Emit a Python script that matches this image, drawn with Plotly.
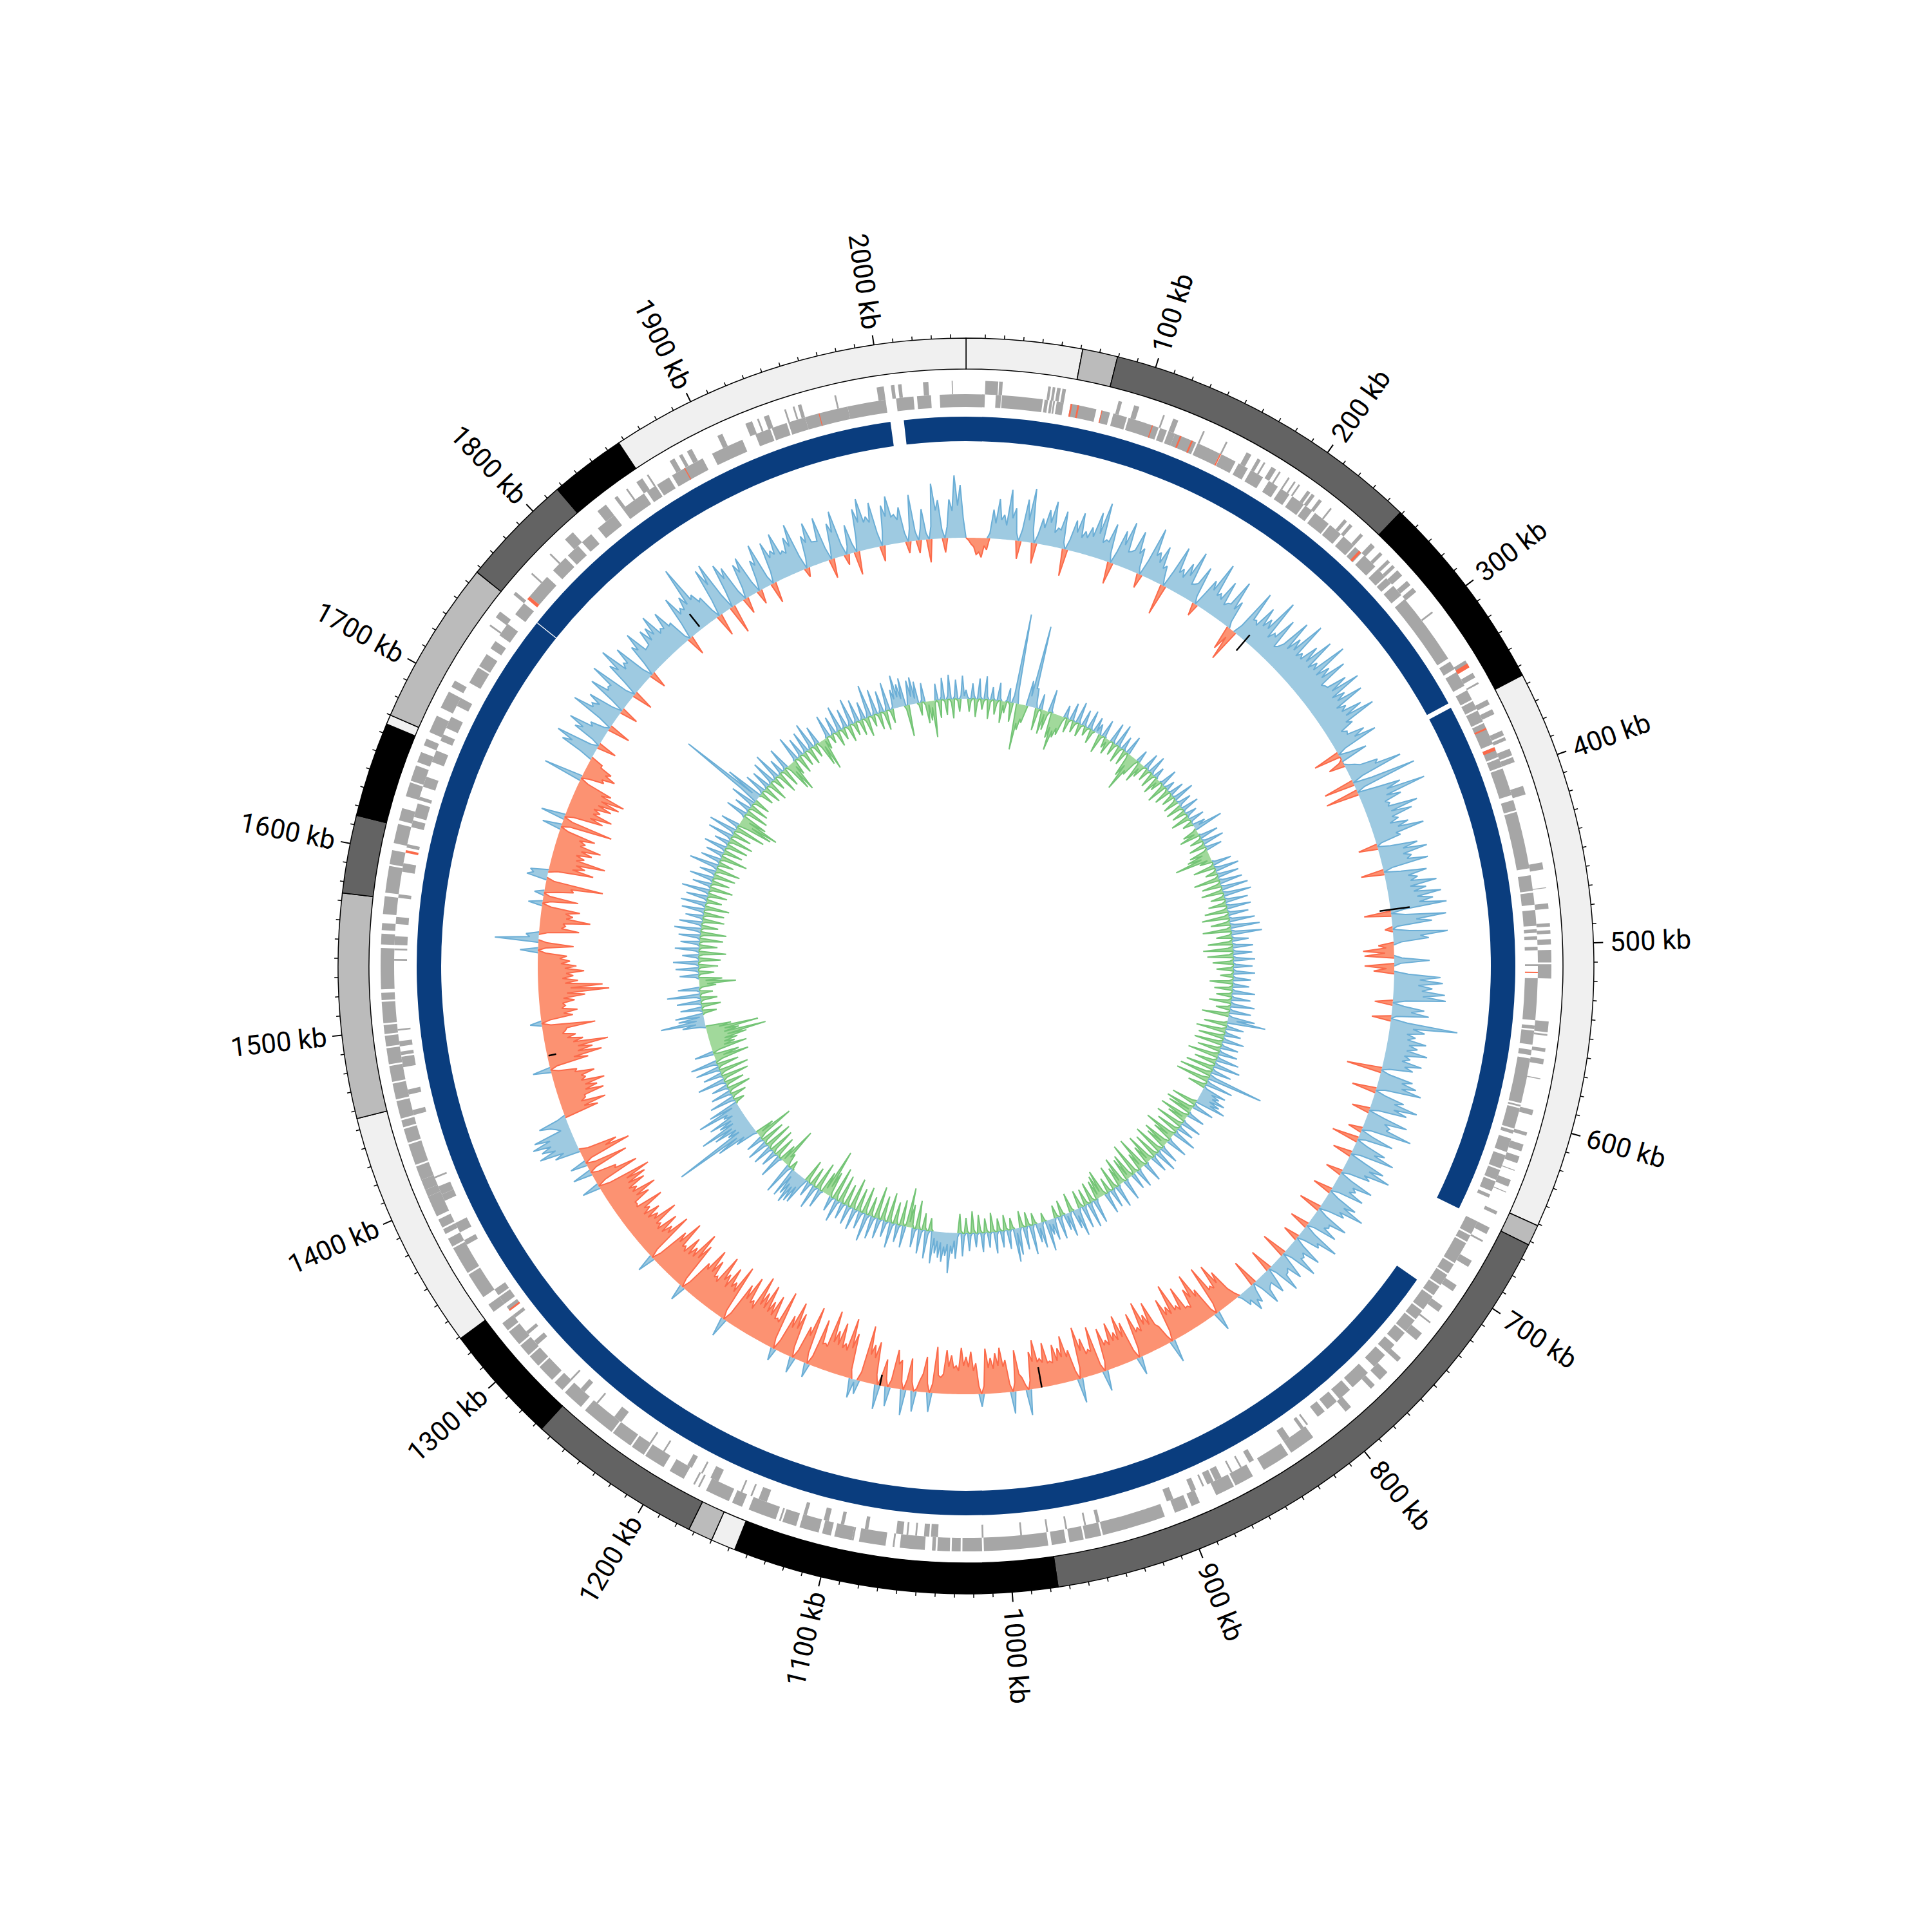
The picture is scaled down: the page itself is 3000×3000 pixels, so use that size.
import math
import plotly.graph_objects as go

GENOME_KB = 2048

# (start_kb, end_kb, colour) of outer contig ring
ring_start = [0, 61, 79.5, 249, 355, 651, 662, 976, 1147, 1160, 1173, 1266, 1329, 1456, 1574, 1615, 1665, 1670, 1757, 1817, 1857]
ring_end = [61, 79.5, 249, 355, 651, 662, 976, 1147, 1160, 1173, 1266, 1329, 1456, 1574, 1615, 1665, 1670, 1757, 1817, 1857, 2048]
ring_color = ["#f0f0f0", "#bbbbbb", "#636363", "#000000", "#f0f0f0", "#bbbbbb", "#636363", "#000000", "#f0f0f0", "#bbbbbb",
              "#636363", "#000000", "#f0f0f0", "#bbbbbb", "#636363", "#000000", "#f0f0f0", "#bbbbbb", "#636363", "#000000", "#f0f0f0"]

# blue ring
blue_start = [0, 352.5, 710, 1756.2, 2011]
blue_end = [349.5, 661, 1755.7, 2003, 2048]

# genes on the outer lane
outer_genes = [
    (10.8,18),(18.5,20.5),(46,47.5),(48.5,50),(51,53),(54,56),(86,88),(95,98),(112,113),(118,121),(136,137),(150,151),
    (163,166),(170,172),(174,175),(179,182),(184,185),(190,191),(194,195),(197,198),(203,205),(206,208),(211,213),(219,220),
    (229,231),(233,235),(241,243),(249,252),(256,258),(262,264),(266,268),(270,274),(278,281),(283,286),(300,301),(333,337),
    (341,344),(347,348),(358,361),(364,367),(377,380),(381,383),(388,392),(393,396),(410,415),(454,458),(468,468.5),(477,480),
    (488,490),(492,494),(497,500),(503,510),(511,519),(543,549),(550,551),(558,560),(564,567),(575,575.5),(593,596),(606,608),
    (613,617),(620,624),(628,628.5),(634,638),(641,641.5),(653,655),(663,667),(671,672),(684,688),(700,704),(714,718),(725,726),
    (733,738),(751,754),(762,768),(772,775),(790,794),
    (817,832),(834,850),(857,868),(869,880),(890,895),(897,905),(911,947),(948,957),(958,966),(968,976),(978,1014),(1015,1026),
    (1027,1032),(1033,1040),(1041,1043),(1047,1061),(1064,1065),(1069,1084),(1087,1088),(1088,1098),(1100,1105),(1107,1118),
    (1120,1128),(1129,1130),(1132,1148),(1152,1158),(1160,1174),(1178,1179),(1181,1182),(1188,1197),(1201,1213),(1214,1222),
    (1223,1235),(1236,1255),(1258,1270),(1272,1278),(1280,1290),(1291,1298),(1299,1306),(1307,1316),(1317,1322),(1330,1335),
    (1340,1355),(1356,1372),(1373,1378),(1381,1384),(1385,1390),(1392,1404),(1404,1408),(1408,1414),(1414,1422),(1423,1435),
    (1436,1444),(1445,1449),(1450,1460),(1461,1470),(1471,1480),(1481,1490),(1491,1497),(1498,1503),(1504,1516),(1517,1521),
    (1523,1546),(1548,1554),(1556,1560),(1565,1575),(1577,1592),(1593,1601),(1605,1616),(1618,1625),(1632,1640),(1641,1650),
    (1652,1658),(1662,1666),(1670,1680),(1685,1695),(1698,1702),
    (1738,1739),(1744,1748),(1760,1762),(1775,1776),(1790,1791),(1802,1808),(1826,1832),(1838,1840),(1846,1847),(1853,1857),
    (1860,1861),(1875,1878),(1881,1883),(1886,1889),(1905,1908),(1922,1926),(1929,1930),(1933,1936),(1945,1946),(1950,1951),
    (1953,1955),(1974,1975),(1998,2002),(2006,2008),(2010,2012),(2024,2027),(2040,2040.6),
]

# genes on the inner lane
inner_genes = [
    (0,10.8),(17,20),(20.5,44),(45,47),(48,49.5),(50,51),(52,56),(60,75),(78,83),(85,93),(94,112),(113,117),(118,122),
    (122,135),(136,150),(151,160),(162,168),(170,178),(182,188),(190,196),(198,206),(207,212),(214,224),(225,233),(235,243),
    (244,249),(251,260),(262,268),(269,273),(275,282),(285,327),(329,334),(336,345),(348,354),(355,360),(361,368),(369,382),
    (384,390),(391,396),(397,413),(416,422),(423,456),(460,469),(470,477),(480,489),(491,493),(495,497),(501,503),(511,512),
    (519,543),(546,548),(549,557),(560,563),(565,591),(592,593),(594,606),(607,609),(612,620),(622,630),(631,637),(638,644),
    (646,648),(663,671),(672,676),(677,690),(691,697),(698,705),(706,712),(713,722),(723,729),(730,738),(739,746),(748,754),
    (756,765),(770,782),(784,792),(794,801),(803,808),
    (815,816),(818,820),(828,832),(852,855),(860,861),(866,867),(873,877),(878,882),(884,885),(889,892),(903,907),(947,949),
    (955,956),(966,967),(977,978),(992,993),(1014,1015),(1040,1044),(1045,1048),(1052,1053),(1057,1058),(1060,1064),(1080,1082),
    (1094,1096),(1103,1106),(1116,1118),(1140,1145),(1149,1150),(1155,1156),(1170,1175),(1180,1181),(1187,1190),(1205,1206),
    (1214,1215),(1235,1240),(1252,1253),(1262,1265),(1272,1273),(1300,1303),(1308,1310),(1320,1322),(1325,1328),(1330,1335),
    (1336,1340),(1370,1373),(1378,1384),(1398,1402),(1402,1407),(1412,1413),(1450,1453),(1462,1465),(1478,1484),(1485,1487),
    (1490,1493),(1499,1500),(1539,1540),(1545,1546),(1548,1553),(1560,1564),(1575,1577),(1590,1595),(1604,1606),(1616,1620),
    (1622,1630),(1632,1634),(1640,1646),(1655,1662),(1668,1672),(1676,1683),(1690,1695),
    (1705,1715),(1716,1724),(1728,1733),(1737,1745),(1752,1760),(1765,1780),(1785,1795),(1797,1805),(1808,1815),(1820,1832),
    (1838,1853),(1855,1861),(1862,1870),(1872,1892),(1898,1917),(1925,1934),(1935,1944),(1945,1955),(1955,1980),(1980,2002),
    (2008,2018),(2020,2028),(2033,2048),
]

# red genes: (lane, start, end)
red_lane = ["in", "in", "in", "in", "in", "in", "in", "in", "in", "out", "in", "in", "in", "in", "in", "in", "in"]
red_start = [60, 64, 78, 108, 125, 132, 150, 247, 372, 335, 384, 515.3, 1325, 1601, 1763, 1880, 1963]
red_end = [61, 65, 78.5, 108.6, 126, 133, 150.8, 248.5, 373, 337.5, 386, 516, 1326, 1602.5, 1765, 1880.6, 1963.5]

# outer signal: signed heights read at every 4 kb
outer_peaks = [
    0,-10,-26,-30,-18,45,62,38,78,50,-28,66,84,-32,40,55,70,30,58,-42,48,62,35,44,70,
    88,32,60,-34,55,72,28,64,40,-22,80,45,58,30,-48,70,38,52,76,26,60,-20,48,82,36,
    62,30,74,44,-38,-52,80,36,66,52,92,40,72,28,84,60,96,48,70,90,55,100,64,86,42,
    75,92,60,85,50,72,88,45,30,55,70,-42,44,-25,15,50,85,-48,100,-52,68,105,62,40,82,
    70,45,58,80,40,-30,62,75,48,72,-36,66,50,78,60,82,68,88,-42,85,62,-12,85,55,-24,
    -48,-46,55,-46,-32,72,76,60,80,82,-28,50,58,-30,105,55,42,60,48,65,40,60,48,-55,52,
    60,70,-38,48,72,58,-28,65,40,78,-22,55,-42,50,68,-30,60,74,45,-26,58,35,52,-30,50,
    68,40,-35,55,30,48,-30,62,36,-25,50,28,56,-40,44,25,52,-36,40,20,46,-42,30,38,22,
    -8,-55,-72,-40,-78,30,-50,-80,-60,-35,-72,-45,-85,-52,-68,35,-30,-75,-58,-82,-44,-70,28,-62,-76,
    -52,-70,-45,-66,32,-74,-40,-60,-80,38,-48,-72,-55,-62,-38,-68,-45,-75,-58,40,-20,-64,34,-50,-70,
    -62,-55,-70,20,-48,-66,-58,-72,-44,-60,-68,-25,-72,30,-55,-18,32,-50,40,-45,-60,30,-42,38,-66,
    -60,-88,22,30,-70,-92,-50,-80,-65,-95,-40,-75,22,-90,-55,25,-70,-85,-60,20,-92,-45,-78,-65,-88,
    -72,-95,-50,-85,-68,30,-90,-58,-78,-62,-88,-48,-70,-84,-55,25,-76,-92,-60,-72,-50,-88,-64,28,-80,
    -55,-70,-45,-80,-52,-60,-48,-75,-35,-62,-78,-50,-68,-74,-85,28,-72,-40,30,-66,26,-78,-60,40,62,
    55,66,60,20,45,-55,-70,-40,-72,-64,-78,-50,-66,-40,28,-62,-85,-72,-98,-60,-50,-35,-83,18,-50,
    -58,-40,-55,-72,-110,-100,-62,-55,-72,-60,-50,-45,28,-55,68,20,-62,-40,-78,-50,-60,22,-55,15,-45,
    -90,32,28,-70,-55,-85,-50,-60,-72,-45,-58,30,-80,38,-60,-72,-50,-65,-75,-80,-55,62,-35,-50,-40,
    -20,55,68,-30,48,62,30,-35,72,45,55,-28,65,40,75,-32,58,80,45,66,-26,52,70,35,60,
    58,72,42,64,38,-30,70,46,60,105,52,40,-35,78,82,-45,70,60,-25,55,62,-22,48,70,-32,
    65,48,72,40,58,76,-14,50,68,35,70,-30,55,72,-16,45,-36,66,80,50,70,-24,62,75,45,
    55,-18,72,-20,48,-36,86,60,-22,60,97,82,
]

# outer signal: heights of the troughs halfway between those readings
outer_troughs = [
    -4,-14,-22,-12,8,24,30,22,34,12,18,34,20,14,26,36,22,28,10,16,30,24,26,30,38,
    26,30,14,20,34,26,32,30,10,26,38,30,24,12,28,30,26,34,24,30,12,22,34,30,28,
    24,32,28,10,-14,16,34,30,36,38,28,36,24,38,36,42,38,40,44,40,44,42,46,38,44,
    46,40,44,36,40,42,36,22,28,36,14,16,-6,6,22,44,18,30,14,30,44,40,34,36,38,
    36,30,40,34,8,20,38,36,40,14,26,36,38,36,40,44,46,20,22,38,8,26,42,12,-12,
    -14,12,10,-12,22,40,38,44,46,20,18,30,8,26,36,28,30,34,32,30,28,34,12,14,36,
    38,14,16,34,36,14,26,30,36,14,20,12,18,34,14,26,38,34,12,20,28,26,12,16,32,
    30,14,16,28,24,12,18,30,12,16,22,26,14,22,20,26,12,22,18,24,14,10,22,16,6,
    -20,-38,-34,-36,-16,-10,-40,-44,-30,-34,-36,-40,-38,-40,-16,-12,-36,-40,-44,-36,-38,-14,-14,-40,-38,
    -40,-36,-38,-14,-12,-36,-34,-42,-16,-14,-38,-40,-36,-34,-36,-38,-40,-42,-14,-8,-26,-14,-12,-40,-42,
    -38,-40,-12,-12,-36,-42,-44,-36,-40,-42,-30,-28,-14,-14,-28,-4,-14,-16,-12,-38,-12,-12,-14,-16,-40,
    -44,-14,4,-14,-46,-40,-42,-44,-46,-36,-38,-14,-16,-42,-14,-16,-44,-42,-16,-16,-40,-42,-44,-46,-48,
    -50,-38,-44,-46,-14,-14,-44,-48,-42,-50,-40,-44,-48,-46,-14,-14,-50,-46,-44,-42,-46,-48,-14,-14,-44,
    -38,-36,-40,-42,-36,-34,-40,-32,-34,-42,-40,-38,-42,-44,-18,-14,-36,-12,-12,-14,-12,-40,-14,24,34,
    38,36,14,28,14,-34,-32,-40,-44,-46,-42,-44,-36,-12,-12,-40,-48,-50,-44,-36,-30,-38,-14,-14,-36,
    -34,-36,-38,-44,-50,-42,-38,-44,-42,-36,-34,-12,-12,-14,14,-14,-34,-36,-40,-38,-14,-12,-10,-20,-40,
    -12,22,-14,-36,-40,-38,-36,-42,-38,-34,-14,-14,-14,-14,-38,-40,-38,-42,-44,-40,-14,-12,-30,-32,-20,
    20,40,12,14,36,24,8,22,40,34,16,24,36,38,14,24,44,36,40,16,20,42,34,36,38,
    42,36,38,36,8,26,38,40,44,46,36,14,26,50,24,26,44,16,18,40,18,18,38,14,18,
    38,40,36,34,42,22,16,38,36,34,20,22,40,18,12,14,22,44,42,40,22,22,44,42,36,
    14,20,14,18,10,20,44,14,18,42,50,30,
]

# short black marks on the outer track
black_kb = [231, 469, 966, 1090, 1467, 1831]
black_low = [-20, -17, -32, -17, -14, 5]
black_high = [12, 30, 0, 0, -2, 30]

# inner signal: signed heights read at every 4 kb
inner_peaks = [
    14,-20,24,-28,32,-16,36,-30,20,-22,28,-34,-18,22,-30,140,-72,-40,-28,40,128,30,-35,24,-38,
    -30,36,-40,-58,-36,-30,20,-22,28,-18,34,-20,26,-14,30,-22,24,16,-30,28,-16,-24,32,-20,36,
    -26,22,-24,30,-38,-60,-30,20,-34,-22,26,-20,30,-24,18,-28,-18,28,-32,16,-26,24,-20,34,-24,
    22,-26,28,-22,18,-30,24,-16,20,46,-24,-32,30,-20,34,-26,26,-30,-36,-58,-20,30,-34,38,-18,
    34,-40,36,-30,42,-34,44,-22,36,-28,38,-36,32,-42,40,-30,46,-44,48,-24,26,-38,32,-46,30,
    -40,34,-32,30,-26,34,-20,28,-36,26,-28,36,-24,30,-34,38,-22,34,-42,42,60,-36,28,-46,26,
    -40,34,-44,28,-36,30,-48,36,-34,42,-44,32,-50,88,-52,44,-28,38,30,42,36,48,-40,34,-44,
    -38,28,-46,-30,32,-44,26,-36,38,-50,-32,34,-42,-34,30,-48,36,-40,28,-46,-30,32,-52,-28,30,
    -52,26,-40,-36,34,-44,-30,36,-38,30,-24,34,-42,-36,-30,38,-32,40,-26,36,-28,44,30,-30,38,
    26,-24,36,-20,34,24,48,-14,40,30,-18,46,-22,36,-26,42,52,-18,30,-24,26,-20,34,-30,24,
    -22,30,-28,22,-34,28,-24,36,-30,40,32,63,36,46,40,34,50,-20,44,-26,38,-44,30,-36,-61,
    34,-40,28,-34,40,-46,26,-38,32,-50,36,-30,44,-42,28,-36,34,-48,30,-34,26,-44,36,-52,24,
    -40,-74,-34,30,-44,38,-30,24,-36,44,46,52,40,48,-14,50,-20,-61,-28,38,-34,26,-40,32,-44,
    34,-38,28,-60,-30,36,66,135,40,60,80,44,58,30,70,48,-16,40,-24,32,-36,26,-30,44,-42,
    30,-46,38,-34,42,-54,-40,30,-56,-38,-44,-60,-92,-50,-82,-40,36,69,40,44,-22,34,-30,38,-26,
    52,-20,34,-26,-57,-36,30,-24,36,-30,40,-34,26,-42,38,-28,30,-36,34,-40,42,-26,36,-34,28,
    -32,36,-38,40,-24,34,-30,44,-36,30,-28,38,-34,26,-38,46,-24,32,-42,28,-30,36,-34,24,-38,
    40,-30,44,-48,30,-55,-63,-40,34,-36,26,-30,40,-26,137,60,-22,34,-28,30,-32,38,-20,44,-34,
    24,-30,36,-44,-50,-24,40,-28,30,-22,34,-26,42,-20,30,-40,-50,-18,36,-14,28,-24,40,-18,30,
    -26,42,-20,36,-24,28,-30,51,-18,40,-26,34,-30,44,-22,30,51,36,44,-49,38,42,34,-20,30,
    -34,-30,-57,26,-28,34,-24,38,-30,30,-20,36,
]

# inner signal: heights of the troughs halfway between those readings
inner_troughs = [
    3,-4,5,-6,4,-3,5,-4,3,-5,4,-6,3,-4,12,20,-30,-22,-14,16,30,8,-4,-5,-6,
    -6,4,-22,-26,-20,-8,4,-3,3,-4,5,-3,4,-3,5,-4,3,6,-4,3,-5,-3,4,-4,5,
    -4,3,-4,-8,-18,-24,-8,-4,-8,-3,4,-3,5,-4,3,-5,3,-5,4,-4,3,-3,4,-5,3,
    4,-4,3,-3,4,-4,3,-3,8,-5,-6,4,-3,5,-4,4,-5,-10,-14,-6,4,-4,6,-4,5,
    -5,6,-5,6,-4,7,-4,5,-5,6,-5,4,-6,5,-6,7,-6,7,-4,4,-5,5,-7,5,-6,
    5,-5,4,-4,5,-3,4,-5,4,-5,5,-4,4,-5,6,-4,5,-6,6,14,-5,4,-7,4,-6,
    5,-6,4,-5,4,-7,5,-5,6,-6,5,-8,10,-9,6,-4,5,16,20,18,22,-6,5,-6,-4,
    4,-7,-6,4,-6,3,-5,5,-8,-8,5,-7,-8,4,-7,5,-6,4,-7,-6,4,-8,-6,4,-5,
    -6,-8,-6,4,-6,-6,5,-6,4,-3,5,-7,-8,-6,5,-5,5,-4,5,-5,6,10,-4,5,4,
    -3,5,-3,5,8,6,-2,5,8,-3,6,-3,5,-4,6,7,-3,4,-3,3,-3,5,-4,3,-3,
    4,-4,3,-5,4,-3,5,-4,6,12,20,18,22,16,14,10,-3,6,-4,5,-6,4,-5,-8,-4,
    -5,4,-5,5,-6,4,-5,4,-7,5,-4,6,-6,4,-5,5,-7,4,-5,3,-6,5,-8,3,-6,
    -14,-8,4,-6,5,-4,3,-5,14,18,22,20,10,-2,6,-6,-12,-4,5,-5,4,-6,4,-6,5,
    -5,4,-10,-8,6,20,30,22,24,28,22,22,16,22,10,-3,6,-4,5,-5,4,-4,6,-6,4,
    -7,5,-5,6,-10,-14,-6,-12,-20,-22,-24,-30,-26,-28,-20,8,14,12,6,-3,5,-4,5,-4,7,
    -3,5,-4,-12,-10,5,-3,5,-4,6,-5,4,-6,5,-4,4,-5,5,-6,6,-4,5,-5,4,-5,
    5,-6,6,-3,5,-4,6,-5,4,-4,5,-5,4,-6,7,-3,4,-6,4,-4,5,-5,3,-6,6,
    -4,6,-8,4,-16,-20,-12,5,-5,3,-4,6,-4,30,12,-3,5,-4,4,-5,5,-3,6,-5,3,
    -4,5,-7,-14,-8,5,-4,4,-3,5,-4,6,-3,4,-8,-10,-3,5,-2,4,-3,6,-3,4,-4,
    6,-3,5,-3,4,-5,8,-2,6,-4,5,-4,6,-3,4,14,16,12,-6,14,12,8,-3,4,-5,
    -5,-10,-4,-4,5,-3,6,-5,4,-3,5,4,
]

major_ticks = [100, 200, 300, 400, 500, 600, 700, 800, 900, 1000, 1100, 1200, 1300, 1400, 1500, 1600, 1700, 1800, 1900, 2000]
major_labels = [f"{k} kb" for k in major_ticks]


def deg(kb):
    return kb * 360.0 / GENOME_KB


def bars(starts, ends, inner, outer, colors, line_color=None, line_width=0):
    return go.Barpolar(
        r=[outer - inner] * len(starts), base=[inner] * len(starts),
        theta=[deg((a + b) / 2) for a, b in zip(starts, ends)],
        width=[deg(b - a) for a, b in zip(starts, ends)],
        marker=dict(color=colors, line=dict(color=line_color or "rgba(0,0,0,0)", width=line_width)),
        hoverinfo="skip", showlegend=False, opacity=1)


def signed_track(peaks, troughs, base, pos_line, pos_fill, neg_line, neg_fill, line_width):
    values = [v for pair in zip(peaks, troughs) for v in pair]
    n = len(values)
    traces = []
    th = [360.0 * i / n for i in range(n)] + [360.0]
    for sign, lc, fc in ((1, pos_line, pos_fill), (-1, neg_line, neg_fill)):
        clipped = [max(sign * v, 0) for v in values]
        clipped = clipped + [clipped[0]]
        rr = [base + sign * c for c in clipped]
        traces.append(go.Scatterpolar(
            r=rr + [base] * len(th), theta=th + th[::-1], mode="lines", fill="toself",
            fillcolor=fc, line=dict(width=0, color=fc), hoverinfo="skip", showlegend=False))
        lr = []
        for i, c in enumerate(clipped):
            prev_on = i > 0 and clipped[i - 1] > 0
            next_on = i < n and clipped[i + 1] > 0
            lr.append(rr[i] if (c > 0 or prev_on or next_on) else None)
        traces.append(go.Scatterpolar(r=lr, theta=th, mode="lines", line=dict(width=line_width, color=lc),
                                      connectgaps=False, hoverinfo="skip", showlegend=False))
    return traces


def ticks(kbs, r0, r1, width):
    rr, th = [], []
    for k in kbs:
        rr += [r0, r1, None]
        th += [deg(k), deg(k), deg(k)]
    return go.Scatterpolar(r=rr, theta=th, mode="lines", line=dict(color="black", width=width),
                           hoverinfo="skip", showlegend=False)


GENE_GRAY = "#a6a6a6"
RED = "#fb6a4a"
fig = go.Figure()

fig.add_trace(bars(ring_start, ring_end, 927, 975, ring_color, "black", 1.5))
fig.add_trace(bars([g[0] for g in outer_genes], [g[1] for g in outer_genes], 888, 909, GENE_GRAY))
fig.add_trace(bars([g[0] for g in inner_genes], [g[1] for g in inner_genes], 868, 888, GENE_GRAY))
red_in = [i for i, l in enumerate(red_lane) if l == "in"]
red_out = [i for i, l in enumerate(red_lane) if l == "out"]
fig.add_trace(bars([red_start[i] for i in red_in], [red_end[i] for i in red_in], 868, 888, RED))
fig.add_trace(bars([red_start[i] for i in red_out], [red_end[i] for i in red_out], 888, 909, RED))
fig.add_trace(bars(blue_start, blue_end, 815, 853, "#0a3d7e"))

for t in signed_track(outer_peaks, outer_troughs, 665, "#6baed6", "#9ecae1", "#fb6a4a", "#fc9272", 2):
    fig.add_trace(t)
for t in signed_track(inner_peaks, inner_troughs, 415, "#6baed6", "#9ecae1", "#74c476", "#a1d99b", 2):
    fig.add_trace(t)

br, bt = [], []
for k, lo, hi in zip(black_kb, black_low, black_high):
    br += [665 + lo, 665 + hi, None]
    bt += [deg(k), deg(k), deg(k)]
fig.add_trace(go.Scatterpolar(r=br, theta=bt, mode="lines", line=dict(color="black", width=2.5),
                              hoverinfo="skip", showlegend=False))

minor = [k for k in range(10, GENOME_KB, 10) if k % 100]
fig.add_trace(ticks(minor, 975, 981, 1.5))
fig.add_trace(ticks(major_ticks, 975, 990, 2))

annotations = []
for k, label in zip(major_ticks, major_labels):
    a = deg(k)
    r_mid = 1000 + (74 if k >= 1000 else 64)
    x = 0.5 + r_mid * math.sin(math.radians(a)) / 3000
    y = 0.5 + r_mid * math.cos(math.radians(a)) / 3000
    angle = a - 90 if a < 180 else a - 270
    annotations.append(dict(x=x, y=y, xref="paper", yref="paper", text=label, showarrow=False,
                            textangle=angle, xanchor="center", yanchor="middle",
                            font=dict(family="Roboto", size=42, color="black")))

fig.update_layout(
    width=3000, height=3000, autosize=False, margin=dict(l=0, r=0, t=0, b=0),
    paper_bgcolor="white", plot_bgcolor="white", showlegend=False, annotations=annotations,
    polar=dict(
        domain=dict(x=[0, 1], y=[0, 1]), bgcolor="white", barmode="overlay",
        angularaxis=dict(rotation=90, direction="clockwise", visible=False, thetaunit="degrees", type="linear"),
        radialaxis=dict(visible=False, range=[0, 1500]),
    ),
)
fig.write_html("out.html", post_script="document.body.style.margin='0';", config={"displayModeBar": False})
